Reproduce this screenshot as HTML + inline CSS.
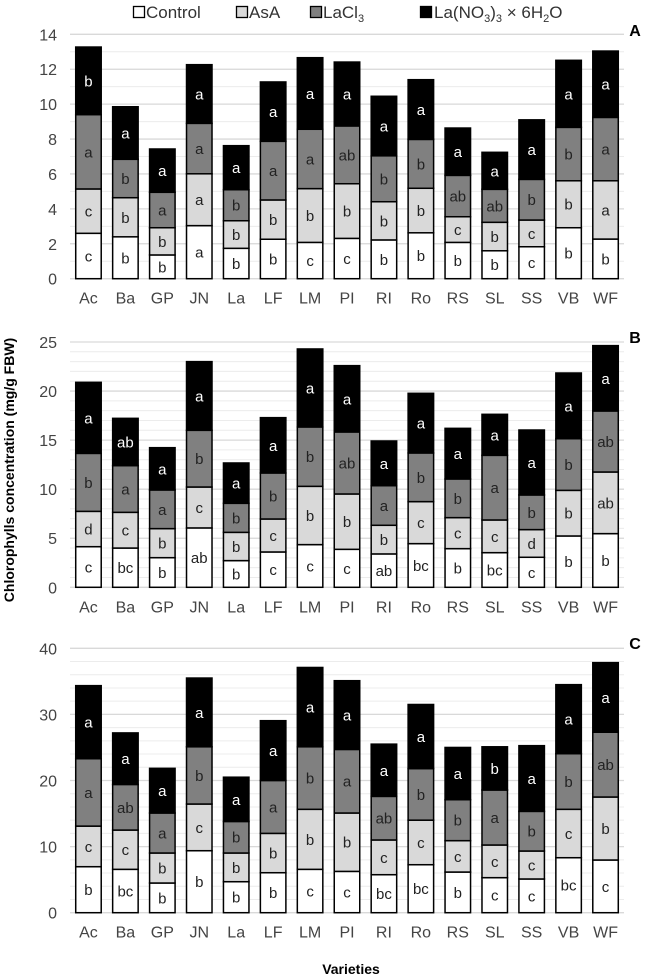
<!DOCTYPE html>
<html><head><meta charset="utf-8"><style>
html,body{margin:0;padding:0;background:#fff}
svg{display:block;font-family:"Liberation Sans",Arial,sans-serif}
</style></head><body>
<svg id="chart" width="645" height="976" viewBox="0 0 645 976" xmlns="http://www.w3.org/2000/svg">
<g font-size="17" fill="#333">
 <g><rect x="133.5" y="6.5" width="11" height="11" fill="#fff" stroke="#000" stroke-width="1.3"/><text x="146" y="18">Control</text></g>
 <g><rect x="236.5" y="6.5" width="11" height="11" fill="#d9d9d9" stroke="#000" stroke-width="1.3"/><text x="249" y="18">AsA</text></g>
 <g><rect x="310.5" y="6.5" width="11" height="11" fill="#808080" stroke="#000" stroke-width="1.3"/><text x="323" y="18">LaCl<tspan font-size="11" dy="4">3</tspan></text></g>
 <g><rect x="420.5" y="6.5" width="11" height="11" fill="#000" stroke="#000" stroke-width="1.3"/><text x="434" y="18">La(NO<tspan font-size="11" dy="4">3</tspan><tspan dy="-4">)</tspan><tspan font-size="11" dy="4">3</tspan><tspan dy="-4"> × 6H</tspan><tspan font-size="11" dy="4">2</tspan><tspan dy="-4">O</tspan></text></g>
</g>
<text transform="translate(14,470) rotate(-90)" text-anchor="middle" font-size="14" font-weight="bold" fill="#000">Chlorophylls concentration (mg/g FBW)</text>
<text x="351" y="974" text-anchor="middle" font-size="14" font-weight="bold" fill="#000">Varieties</text>
</svg>
<script>
const categories=["Ac","Ba","GP","JN","La","LF","LM","PI","RI","Ro","RS","SL","SS","VB","WF"];
const seriesNames=["Control","AsA","LaCl3","LaNO3"];
const aControl=[2.6,2.4,1.36,3.04,1.74,2.26,2.08,2.31,2.22,2.63,2.08,1.6,1.83,2.92,2.27];
const aAsA=[2.54,2.24,1.56,2.97,1.58,2.25,3.08,3.13,2.19,2.55,1.47,1.63,1.53,2.69,3.34];
const aLaCl3=[4.26,2.2,2.03,2.89,1.78,3.36,3.4,3.31,2.63,2.8,2.37,1.89,2.33,3.06,3.63];
const aLaNO3=[3.87,3.01,2.48,3.36,2.52,3.4,4.1,3.66,3.41,3.42,2.71,2.12,3.41,3.84,3.8];
const bControl=[4.14,4.0,3.02,6.05,2.72,3.6,4.35,3.87,3.4,4.45,3.94,3.53,3.06,5.23,5.47];
const bAsA=[3.6,3.64,2.96,4.17,2.88,3.36,5.94,5.64,2.92,4.28,3.16,3.33,2.82,4.65,6.28];
const bLaCl3=[5.91,4.76,3.94,5.78,2.96,4.69,6.05,6.32,4.04,4.96,3.94,6.59,3.53,5.27,6.22];
const bLaNO3=[7.24,4.82,4.31,7.0,4.11,5.64,7.95,6.76,4.55,6.08,5.16,4.18,6.62,6.69,6.66];
const cControl=[6.96,6.56,4.49,9.38,4.69,6.05,6.56,6.25,5.75,7.26,6.15,5.3,5.1,8.32,7.97];
const cAsA=[6.14,5.94,4.54,7.06,4.34,5.95,9.08,8.83,5.25,6.74,4.75,4.94,4.23,7.32,9.53];
const cLaCl3=[10.2,6.9,6.05,8.66,4.77,8.0,9.46,9.62,6.6,7.8,6.2,8.32,6.0,8.42,9.8];
const cLaNO3=[11.05,7.8,6.76,10.4,6.7,9.05,12.0,10.4,7.9,9.7,7.9,6.54,9.94,10.44,10.53];
const aLetters=[["c","b","b","a","b","b","c","c","b","b","b","b","c","b","b"],["c","b","b","a","b","b","b","b","b","b","c","b","c","b","a"],["a","b","a","a","b","a","a","ab","b","b","ab","ab","b","b","a"],["b","a","a","a","a","a","a","a","a","a","a","a","a","a","a"]];
const bLetters=[["c","bc","b","ab","b","c","c","c","ab","bc","b","bc","c","b","b"],["d","c","b","c","b","c","b","b","b","c","c","c","d","b","ab"],["b","a","a","b","b","b","b","ab","a","b","b","a","b","b","ab"],["a","ab","a","a","a","a","a","a","a","a","a","a","a","a","a"]];
const cLetters=[["b","bc","b","b","b","b","c","c","bc","bc","b","c","c","bc","c"],["c","c","b","c","b","b","b","b","c","c","c","c","c","c","b"],["a","ab","a","b","b","a","b","a","ab","b","b","a","b","b","ab"],["a","a","a","a","a","a","a","a","a","a","a","b","a","a","a"]];
const aTicks=[0,2,4,6,8,10,12,14];
const bTicks=[0,5,10,15,20,25];
const cTicks=[0,10,20,30,40];

const NS="http://www.w3.org/2000/svg";
const svg=document.getElementById("chart");
const fills=["#ffffff","#d9d9d9","#808080","#000000"];
const plotL=70,plotR=624,band=(plotR-plotL)/15,barW=25.5;
function mk(tag,attrs,parent){const e=document.createElementNS(NS,tag);for(const k in attrs)e.setAttribute(k,attrs[k]);parent.appendChild(e);return e;}
function xScale(i){return plotL+band*(i+0.5);}
function panel(id,y0,yTop,max,minorStep,ticks,series,letters,labelY){
  const g=mk("g",{},svg);
  
  
  const y=v=>y0-(y0-yTop)*v/max;
  for(let v=minorStep;v<max;v+=minorStep){const l=mk("line",{x1:plotL,x2:plotR,y1:y(v),y2:y(v),stroke:"#ececec","stroke-width":1},g);}
  ticks.forEach(t=>{
    const l=mk("line",{x1:plotL,x2:plotR,y1:y(t),y2:y(t),stroke:"#d9d9d9","stroke-width":1.3},g);
    
    
    const tx=mk("text",{x:57,y:y(t)+6,"text-anchor":"end","font-size":"16",fill:"#444"},g);
    tx.textContent=t;
    
    
  });
  categories.forEach((c,i)=>{
    let cum=0;const cx=xScale(i);
    series.forEach((s,k)=>{
      const v=s[i];const top=y(cum+v),bot=y(cum);
      const r=mk("rect",{x:cx-barW/2,y:top,width:barW,height:bot-top,fill:fills[k],stroke:"#000","stroke-width":1.5},g);
      
      
      const t=mk("text",{x:cx,y:(top+bot)/2+5.5,"text-anchor":"middle","font-size":"15",fill:k==3?"#fff":"#222"},g);
      t.textContent=letters[k][i];
      
      
      cum+=v;
    });
    const xl=mk("text",{x:cx,y:y0+25,"text-anchor":"middle","font-size":"16",fill:"#444"},g);
    xl.textContent=c;
    
    
  });
  const pl=mk("text",{x:635,y:labelY,"text-anchor":"middle","font-size":"16","font-weight":"bold",fill:"#000"},g);
  pl.textContent=id;
  
  
}
panel("A",278.7,34.3,14,1,aTicks,[aControl,aAsA,aLaCl3,aLaNO3],aLetters,36);
panel("B",587.3,342,25,1,bTicks,[bControl,bAsA,bLaCl3,bLaNO3],bLetters,343);
panel("C",912.7,648.3,40,2,cTicks,[cControl,cAsA,cLaCl3,cLaNO3],cLetters,649);
</script>
</body></html>
